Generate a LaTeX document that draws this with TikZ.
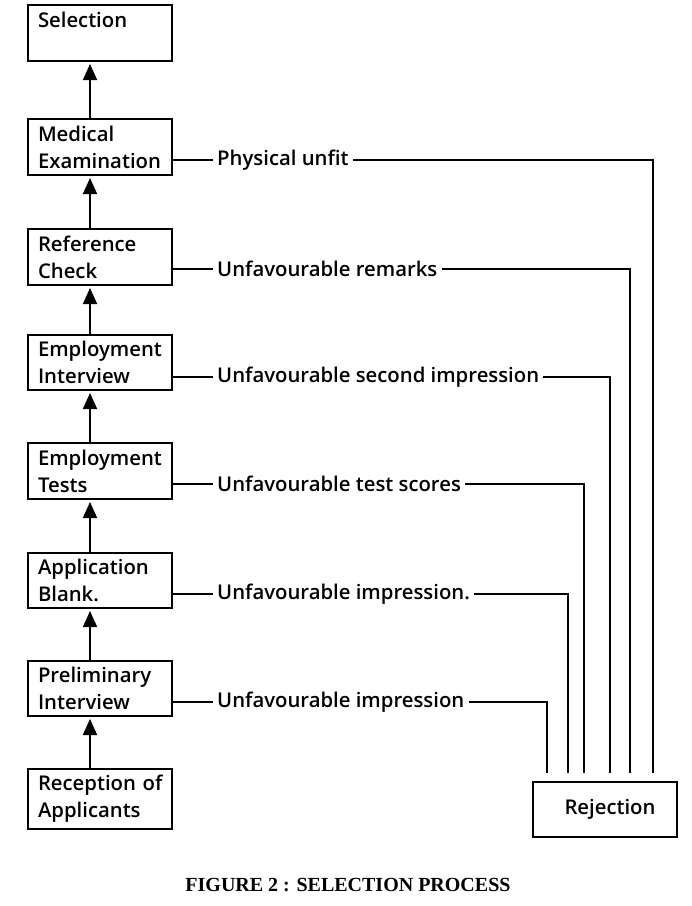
\documentclass[tikz,border=0pt]{standalone}
\usepackage{fontspec}
\setmainfont{Open Sans}
\newfontfamily\bodyfamily{Open Sans Semibold}
\newfontfamily\capfont{Liberation Serif}
\newcommand\stagefont{\bodyfamily\fontsize{20.3}{27}\selectfont}
\usetikzlibrary{arrows.meta}
\begin{document}
\begin{tikzpicture}[x=1pt,y=1pt,
  stage/.style={draw, line width=2pt, minimum width=144pt, text width=124pt, inner xsep=10pt, align=left, font=\stagefont},
  lab/.style={font=\stagefont, inner sep=4pt, anchor=west},
  link/.style={line width=1.8pt},
  flow/.style={line width=1.8pt, -{Triangle[length=16pt,width=14pt]}, shorten >=2pt}]
\useasboundingbox (0,0) rectangle (692,-906);
% stages
\node[stage, minimum height=56pt] (sel) at (100,-33) {Selection\\\phantom{X}};
\node[stage, minimum height=56pt] (med) at (100,-147) {Medical\\Examination};
\node[stage, minimum height=56pt] (ref) at (100,-257) {Reference\\Check};
\node[stage, minimum height=55pt] (ei) at (100,-362.5) {Employment\\Interview};
\node[stage, minimum height=56pt] (et) at (100,-471) {Employment\\Tests};
\node[stage, minimum height=55pt] (ab) at (100,-580.5) {Application\\Blank.};
\node[stage, minimum height=55pt] (pi) at (100,-688.5) {Preliminary\\Interview};
\node[stage, minimum height=60pt] (rec) at (100,-799) {\mbox{Reception of}\\Applicants};
\node[draw, line width=2pt, minimum width=144pt, minimum height=55pt, font=\stagefont] (rej) at (605,-809.5) {\hspace*{10pt}Rejection};
% arrows
\draw[flow] ([xshift=-10pt]rec.north) -- ([xshift=-10pt]pi.south);
\draw[flow] ([xshift=-10pt]pi.north) -- ([xshift=-10pt]ab.south);
\draw[flow] ([xshift=-10pt]ab.north) -- ([xshift=-10pt]et.south);
\draw[flow] ([xshift=-10pt]et.north) -- ([xshift=-10pt]ei.south);
\draw[flow] ([xshift=-10pt]ei.north) -- ([xshift=-10pt]ref.south);
\draw[flow] ([xshift=-10pt]ref.north) -- ([xshift=-10pt]med.south);
\draw[flow] ([xshift=-10pt]med.north) -- ([xshift=-10pt]sel.south);
% labels
\node[lab] (l1) at (213,-160) {Physical unfit};
\node[lab] (l2) at (213,-269) {Unfavourable remarks};
\node[lab] (l3) at (213,-377) {Unfavourable second impression};
\node[lab] (l4) at (213,-484) {Unfavourable test scores};
\node[lab] (l5) at (213,-594) {Unfavourable impression.};
\node[lab] (l6) at (213,-702) {Unfavourable impression};
% ends above rejection
\coordinate (e1) at (653,-773);
\coordinate (e2) at (630,-773);
\coordinate (e3) at (610,-773);
\coordinate (e4) at (584,-773);
\coordinate (e5) at (568,-773);
\coordinate (e6) at (547,-773);
% links
\draw[link] (med.east |- l1.west) -- (l1.west);
\draw[link] (ref.east |- l2.west) -- (l2.west);
\draw[link] (ei.east |- l3.west) -- (l3.west);
\draw[link] (et.east |- l4.west) -- (l4.west);
\draw[link] (ab.east |- l5.west) -- (l5.west);
\draw[link] (pi.east |- l6.west) -- (l6.west);
\draw[link] (l1.east) -| (e1);
\draw[link] (l2.east) -| (e2);
\draw[link] (l3.east) -| (e3);
\draw[link] (l4.east) -| (e4);
\draw[link] (l5.east) -| (e5);
\draw[link] (l6.east) -| (e6);
% caption
\node[font=\capfont\bfseries\fontsize{20}{24}\selectfont] (cap) at (348,-885) {FIGURE 2 : SELECTION PROCESS};
\end{tikzpicture}
\end{document}
